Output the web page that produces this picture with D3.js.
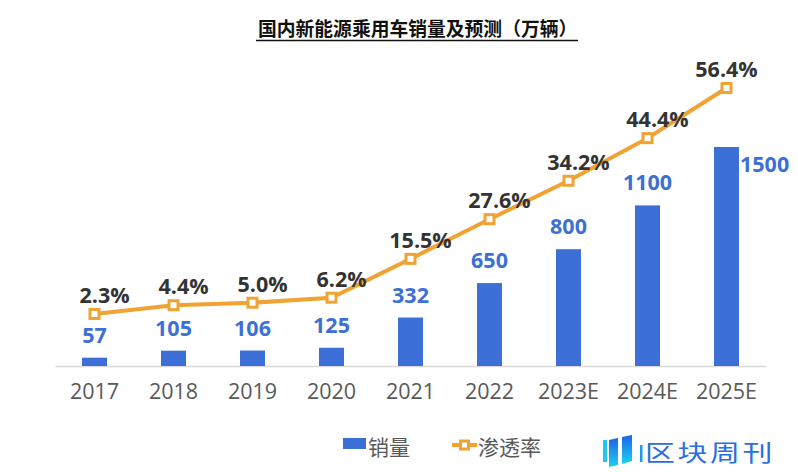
<!DOCTYPE html>
<html><head><meta charset="utf-8">
<script src="https://cdn.jsdelivr.net/npm/d3@7"></script>
<style>body{margin:0;background:#fff}svg{display:block}</style>
</head><body>
<script>
const categories = ["2017","2018","2019","2020","2021","2022","2023E","2024E","2025E"];
// bar heights / line points as drawn in the picture
const sales = [57,105,106,125,332,568,800,1100,1500];
const penetration = [2.3,4.4,5.0,6.2,15.5,25.0,34.2,44.4,56.4];
// data labels as printed
const salesLabels = ["57","105","106","125","332","650","800","1100","1500"];
const penetrationLabels = ["2.3%","4.4%","5.0%","6.2%","15.5%","27.6%","34.2%","44.4%","56.4%"];
const title = "国内新能源乘用车销量及预测（万辆）";
const legendLabels = ["销量","渗透率"];

const W=798,H=472;
const blue="#3C70D6", orange="#F0A232";
const svg=d3.select("body").append("svg").attr("width",W).attr("height",H);

const x=d3.scaleBand().domain(categories).range([55,766]);
const y=d3.scaleLinear().domain([0,1600]).range([366,132.4]);
const yp=d3.scaleLinear().domain([0,60]).range([323.6,73]);
const bw=25;

// title
svg.append("text").attr("x",258).attr("y",35.5).attr("text-anchor","start")
 .attr("font-family","Noto Sans CJK SC").attr("font-weight","bold").attr("font-size",18.8)
 .attr("fill","#111").text(title);
svg.append("line").attr("x1",256).attr("x2",578).attr("y1",40.5).attr("y2",40.5).attr("stroke","#111").attr("stroke-width",1.3);

// axis
const ax=svg.append("g").attr("transform","translate(0,366)").call(d3.axisBottom(x).tickSize(0).tickPadding(18));
ax.select(".domain").attr("stroke","#D9D9D9").attr("stroke-width",1.5);
ax.selectAll("text").attr("font-family","Open Sans, Noto Sans").attr("font-size",21.5).attr("fill","#595959");

// bars
svg.selectAll("rect.bar").data(sales).join("rect").attr("class","bar")
 .attr("x",(d,i)=>x(categories[i])+x.bandwidth()/2-bw/2).attr("width",bw)
 .attr("y",d=>y(d)).attr("height",d=>y(0)-y(d)).attr("fill",blue);

// bar labels
const last=sales.length-1;
svg.selectAll("text.bl").data(sales).join("text").attr("class","bl")
 .attr("x",(d,i)=>x(categories[i])+x.bandwidth()/2+(i===last?bw/2+1:0))
 .attr("y",(d,i)=>i===last?y(d)+25:y(d)-15)
 .attr("text-anchor",(d,i)=>i===last?"start":"middle")
 .attr("font-family","Open Sans").attr("font-weight","bold").attr("font-size",21.5)
 .attr("fill",blue).text((d,i)=>salesLabels[i]);

// line
const cx=i=>x(categories[i])+x.bandwidth()/2;
const line=d3.line().x((d,i)=>cx(i)).y(d=>yp(d));
svg.append("path").datum(penetration).attr("d",line).attr("fill","none")
 .attr("stroke",orange).attr("stroke-width",4).attr("stroke-linejoin","round");
svg.selectAll("rect.mk").data(penetration).join("rect").attr("class","mk")
 .attr("x",(d,i)=>cx(i)-4.5).attr("y",d=>yp(d)-4.5).attr("width",9).attr("height",9)
 .attr("fill","#fff").attr("stroke",orange).attr("stroke-width",3);
svg.selectAll("text.pl").data(penetration).join("text").attr("class","pl")
 .attr("x",(d,i)=>cx(i)+(i===last?0:10)).attr("y",d=>yp(d)-11)
 .attr("text-anchor","middle").attr("font-family","Open Sans").attr("font-weight","bold")
 .attr("font-size",21.5).attr("fill","#333").text((d,i)=>penetrationLabels[i]);

// legend
const lg=svg.append("g");
lg.append("rect").attr("x",343).attr("y",438).attr("width",23).attr("height",11).attr("fill",blue);
lg.append("text").attr("x",368).attr("y",455).attr("font-family","Noto Sans CJK SC").attr("font-size",21).attr("fill","#595959").text(legendLabels[0]);
lg.append("line").attr("x1",452).attr("x2",477).attr("y1",445).attr("y2",445).attr("stroke",orange).attr("stroke-width",4);
lg.append("rect").attr("x",460.5).attr("y",441).attr("width",8).attr("height",8).attr("fill","#fff").attr("stroke",orange).attr("stroke-width",3);
lg.append("text").attr("x",478).attr("y",455).attr("font-family","Noto Sans CJK SC").attr("font-size",21).attr("fill","#595959").text(legendLabels[1]);

// logo
const defs=svg.append("defs");
const gr=defs.append("linearGradient").attr("id","lg").attr("x1",0).attr("y1",1).attr("x2",0).attr("y2",0);
gr.append("stop").attr("offset","0%").attr("stop-color","#19D3F0");
gr.append("stop").attr("offset","100%").attr("stop-color","#1E63E8");
const logo=svg.append("g");
logo.append("rect").attr("x",603).attr("y",440).attr("width",4).attr("height",22).attr("fill","#1FC8F2");
logo.append("path").attr("d","M609,440 L618,438 L618,465 L609,467 Z").attr("fill","url(#lg)");
logo.append("path").attr("d","M622,437 L632,435 L632,461 L622,464 Z").attr("fill","url(#lg)");
logo.append("rect").attr("x",640).attr("y",445).attr("width",2.5).attr("height",17).attr("fill","#1E9BEA");
logo.append("text").attr("transform","translate(645,461) scale(1.3,1)")
 .attr("font-family","Noto Sans CJK SC").attr("font-size",23).attr("letter-spacing",2)
 .attr("fill","#2A6FE0").text("区块周刊");
</script>
</body></html>
